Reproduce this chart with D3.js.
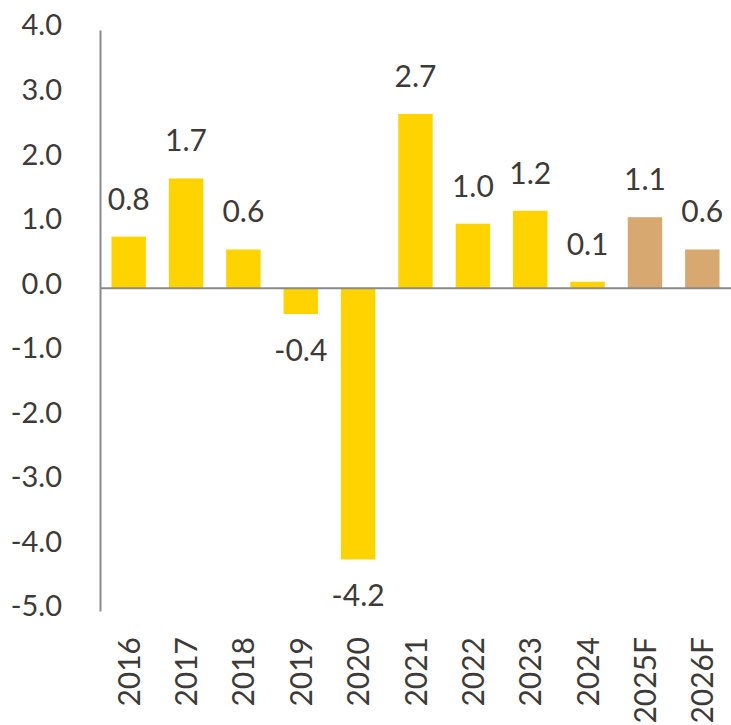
<!DOCTYPE html>
<meta charset="utf-8">
<style>
body { margin: 0; background: #fff; }
svg { display: block; }
.tick text, .val, .cat { font-family: Lato, "Open Sans", sans-serif; font-weight: 400; fill: #3d3a37; }
</style>
<div id="chart"></div>
<script src="https://cdn.jsdelivr.net/npm/d3@7"></script>
<script>
var years = ["2016", "2017", "2018", "2019", "2020", "2021", "2022", "2023", "2024", "2025F", "2026F"];
var growth = [0.8, 1.7, 0.6, -0.4, -4.2, 2.7, 1.0, 1.2, 0.1, 1.1, 0.6];
var forecast = [false, false, false, false, false, false, false, false, false, true, true];
var yTicks = [4, 3, 2, 1, 0, -1, -2, -3, -4, -5];

var width = 731, height = 725;

// plain hyphen for negatives, like the original
var fmt = function(v) { return d3.format(".1f")(v).replace("\u2212", "-"); };

var svg = d3.select("#chart").append("svg")
    .attr("width", width)
    .attr("height", height);

var x = d3.scaleBand()
    .domain(years)
    .range([100, 731])
    .paddingInner(0.4)
    .paddingOuter(0.2);

var y = d3.scaleLinear()
    .domain([-5, 4])
    .range([611, 30]);

// y axis
var yAxis = svg.append("g")
    .attr("transform", "translate(100,0)")
    .call(d3.axisLeft(y).tickValues(yTicks).tickSize(0).tickPadding(38)
      .tickFormat(fmt));
yAxis.select(".domain").attr("stroke", "#8a8a8a").attr("stroke-width", 2);
yAxis.selectAll(".tick text")
    .attr("dy", "0.17em")
    .style("font-size", "29px");

// bars
svg.append("g").selectAll("rect")
    .data(years)
  .enter().append("rect")
    .attr("x", function(d) { return x(d); })
    .attr("width", x.bandwidth())
    .attr("y", function(d, i) { return y(Math.max(0, growth[i])); })
    .attr("height", function(d, i) { return Math.abs(y(growth[i]) - y(0)); })
    .attr("fill", function(d, i) { return forecast[i] ? "#d7a86f" : "#ffd300"; });

// zero line
svg.append("line")
    .attr("x1", 100).attr("x2", width)
    .attr("y1", y(0)).attr("y2", y(0))
    .attr("stroke", "#8a8a8a")
    .attr("stroke-width", 2);

// value labels
svg.append("g").selectAll("text")
    .data(years)
  .enter().append("text")
    .attr("class", "val")
    .attr("x", function(d) { return x(d) + x.bandwidth() / 2; })
    .attr("y", function(d, i) {
      return growth[i] >= 0 ? y(growth[i]) - 27 : y(growth[i]) + 47;
    })
    .attr("text-anchor", "middle")
    .style("font-size", "30px")
    .text(function(d, i) { return fmt(growth[i]); });

// category labels
svg.append("g").selectAll("text")
    .data(years)
  .enter().append("text")
    .attr("class", "cat")
    .attr("transform", function(d) {
      return "translate(" + (x(d) + x.bandwidth() / 2 + 11) + ",637) rotate(-90)";
    })
    .attr("text-anchor", "end")
    .style("font-size", "30px")
    .text(function(d) { return d; });
</script>
